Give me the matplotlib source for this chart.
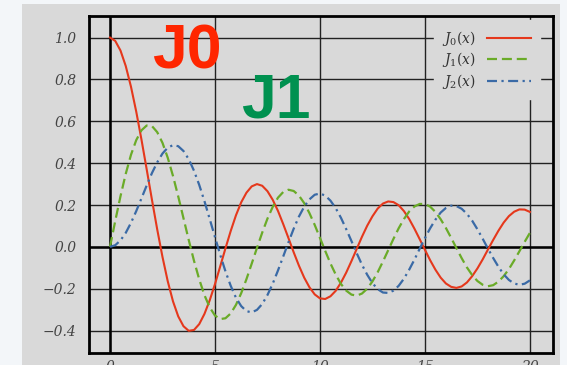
import matplotlib.pyplot as plt
import numpy as np
from matplotlib.patches import Rectangle

# Bessel functions of the first kind, sampled every 0.25 from 0 to 20
x = np.arange(81) * 0.25
j0 = [1.000, 0.984, 0.938, 0.864, 0.765, 0.646, 0.512, 0.369,
      0.224, 0.083, -0.048, -0.164, -0.260, -0.332, -0.379, -0.401,
      -0.397, -0.369, -0.320, -0.255, -0.178, -0.093, -0.007, 0.076,
      0.151, 0.213, 0.259, 0.289, 0.300, 0.292, 0.266, 0.225,
      0.172, 0.109, 0.042, -0.026, -0.090, -0.147, -0.193, -0.227,
      -0.246, -0.249, -0.236, -0.210, -0.171, -0.123, -0.068, -0.010,
      0.048, 0.101, 0.146, 0.183, 0.207, 0.217, 0.214, 0.199,
      0.171, 0.133, 0.087, 0.037, -0.014, -0.064, -0.109, -0.147,
      -0.175, -0.191, -0.196, -0.189, -0.170, -0.140, -0.103, -0.060,
      -0.013, 0.033, 0.077, 0.116, 0.147, 0.168, 0.179, 0.178,
      0.167]
j1 = [0.000, 0.124, 0.242, 0.349, 0.440, 0.510, 0.557, 0.580,
      0.577, 0.548, 0.497, 0.426, 0.339, 0.241, 0.137, 0.033,
      -0.066, -0.155, -0.231, -0.289, -0.328, -0.345, -0.341, -0.318,
      -0.277, -0.221, -0.154, -0.080, -0.005, 0.068, 0.135, 0.191,
      0.235, 0.262, 0.273, 0.267, 0.245, 0.209, 0.161, 0.105,
      0.043, -0.019, -0.079, -0.132, -0.177, -0.209, -0.228, -0.233,
      -0.223, -0.200, -0.165, -0.121, -0.070, -0.016, 0.038, 0.089,
      0.133, 0.169, 0.193, 0.205, 0.205, 0.192, 0.167, 0.132,
      0.090, 0.043, -0.006, -0.054, -0.098, -0.135, -0.163, -0.181,
      -0.188, -0.183, -0.166, -0.140, -0.106, -0.065, -0.021, 0.024,
      0.067]
j2 = [0.000, 0.008, 0.031, 0.067, 0.115, 0.171, 0.232, 0.294,
      0.353, 0.404, 0.446, 0.474, 0.486, 0.481, 0.458, 0.419,
      0.364, 0.296, 0.218, 0.133, 0.047, -0.038, -0.117, -0.186,
      -0.243, -0.283, -0.307, -0.313, -0.301, -0.273, -0.230, -0.176,
      -0.113, -0.046, 0.022, 0.087, 0.145, 0.192, 0.227, 0.249,
      0.255, 0.245, 0.221, 0.185, 0.139, 0.085, 0.028, -0.030,
      -0.085, -0.133, -0.173, -0.202, -0.218, -0.220, -0.209, -0.186,
      -0.152, -0.109, -0.061, -0.009, 0.042, 0.089, 0.130, 0.164,
      0.186, 0.197, 0.195, 0.182, 0.158, 0.125, 0.084, 0.039,
      -0.008, -0.053, -0.095, -0.131, -0.158, -0.175, -0.181, -0.176,
      -0.160]

labels = [r'$J_0(x)$', r'$J_1(x)$', r'$J_2(x)$']
xticks = [0, 5, 10, 15, 20]
yticks = [-0.4, -0.2, 0.0, 0.2, 0.4, 0.6, 0.8, 1.0]

panel = '#d9d9d9'
plt.rcParams['mathtext.fontset'] = 'dejavuserif'

fig = plt.figure(figsize=(5.67, 3.65), dpi=100, facecolor='#f3f6f9')
fig.patches.append(Rectangle((22 / 567, 0), 538 / 567, 1 - 4 / 365,
                             transform=fig.transFigure, facecolor=panel,
                             edgecolor='none', zorder=-5))
ax = fig.add_axes([89 / 567, 12 / 365, 464 / 567, 337 / 365])
ax.set_zorder(1)
ax.set_facecolor(panel)

ax.plot(x, j0, color='#e5381c', lw=1.5, label=labels[0], zorder=3)
ax.plot(x, j1, color='#6aab28', lw=1.6, ls=(0, (4.5, 2.2)), label=labels[1], zorder=3)
ax.plot(x, j2, color='#3a6aa6', lw=1.6, ls=(0, (4.5, 2, 1, 2)), label=labels[2], zorder=3)

ax.set_xlim(-1, 21.1)
ax.set_ylim(-0.507, 1.103)
ax.set_xticks(xticks)
ax.set_yticks(yticks)
ax.set_yticklabels([f'{v:.1f}'.replace('-', '\u2212') for v in yticks])
ax.grid(True, color='#222222', lw=1.0, zorder=1)
ax.axhline(0, color='black', lw=1.8, zorder=2)
ax.axvline(0, color='black', lw=1.8, zorder=2)
ax.tick_params(length=0, labelsize=10, labelcolor='#444444')
ax.tick_params(axis='y', pad=9)
ax.tick_params(axis='x', pad=5)
for lab in ax.get_xticklabels() + ax.get_yticklabels():
    lab.set_fontfamily('DejaVu Serif')
    lab.set_fontstyle('italic')
for sp in ax.spines.values():
    sp.set_linewidth(2)
    sp.set_color('black')
    sp.set_zorder(6)

leg = ax.legend(loc='upper right', bbox_to_anchor=(1 - 9 / 464, 1),
                markerfirst=False, frameon=True, fancybox=False,
                facecolor=panel, edgecolor=panel, framealpha=1, fontsize=10,
                handlelength=3.2, borderaxespad=0.3, borderpad=0.6,
                labelspacing=0.2)
for t in leg.get_texts():
    t.set_color('#333333')
leg.set_zorder(5)

ax.text(3.67, 0.93, 'J0', color='#ff2600', fontsize=45, fontweight='bold',
        family='Liberation Sans', ha='center', va='center', zorder=6)
ax.text(7.9, 0.695, 'J1', color='#009150', fontsize=45, fontweight='bold',
        family='Liberation Sans', ha='center', va='center', zorder=6)

fig.savefig('out.png', dpi=100, facecolor=fig.get_facecolor())
